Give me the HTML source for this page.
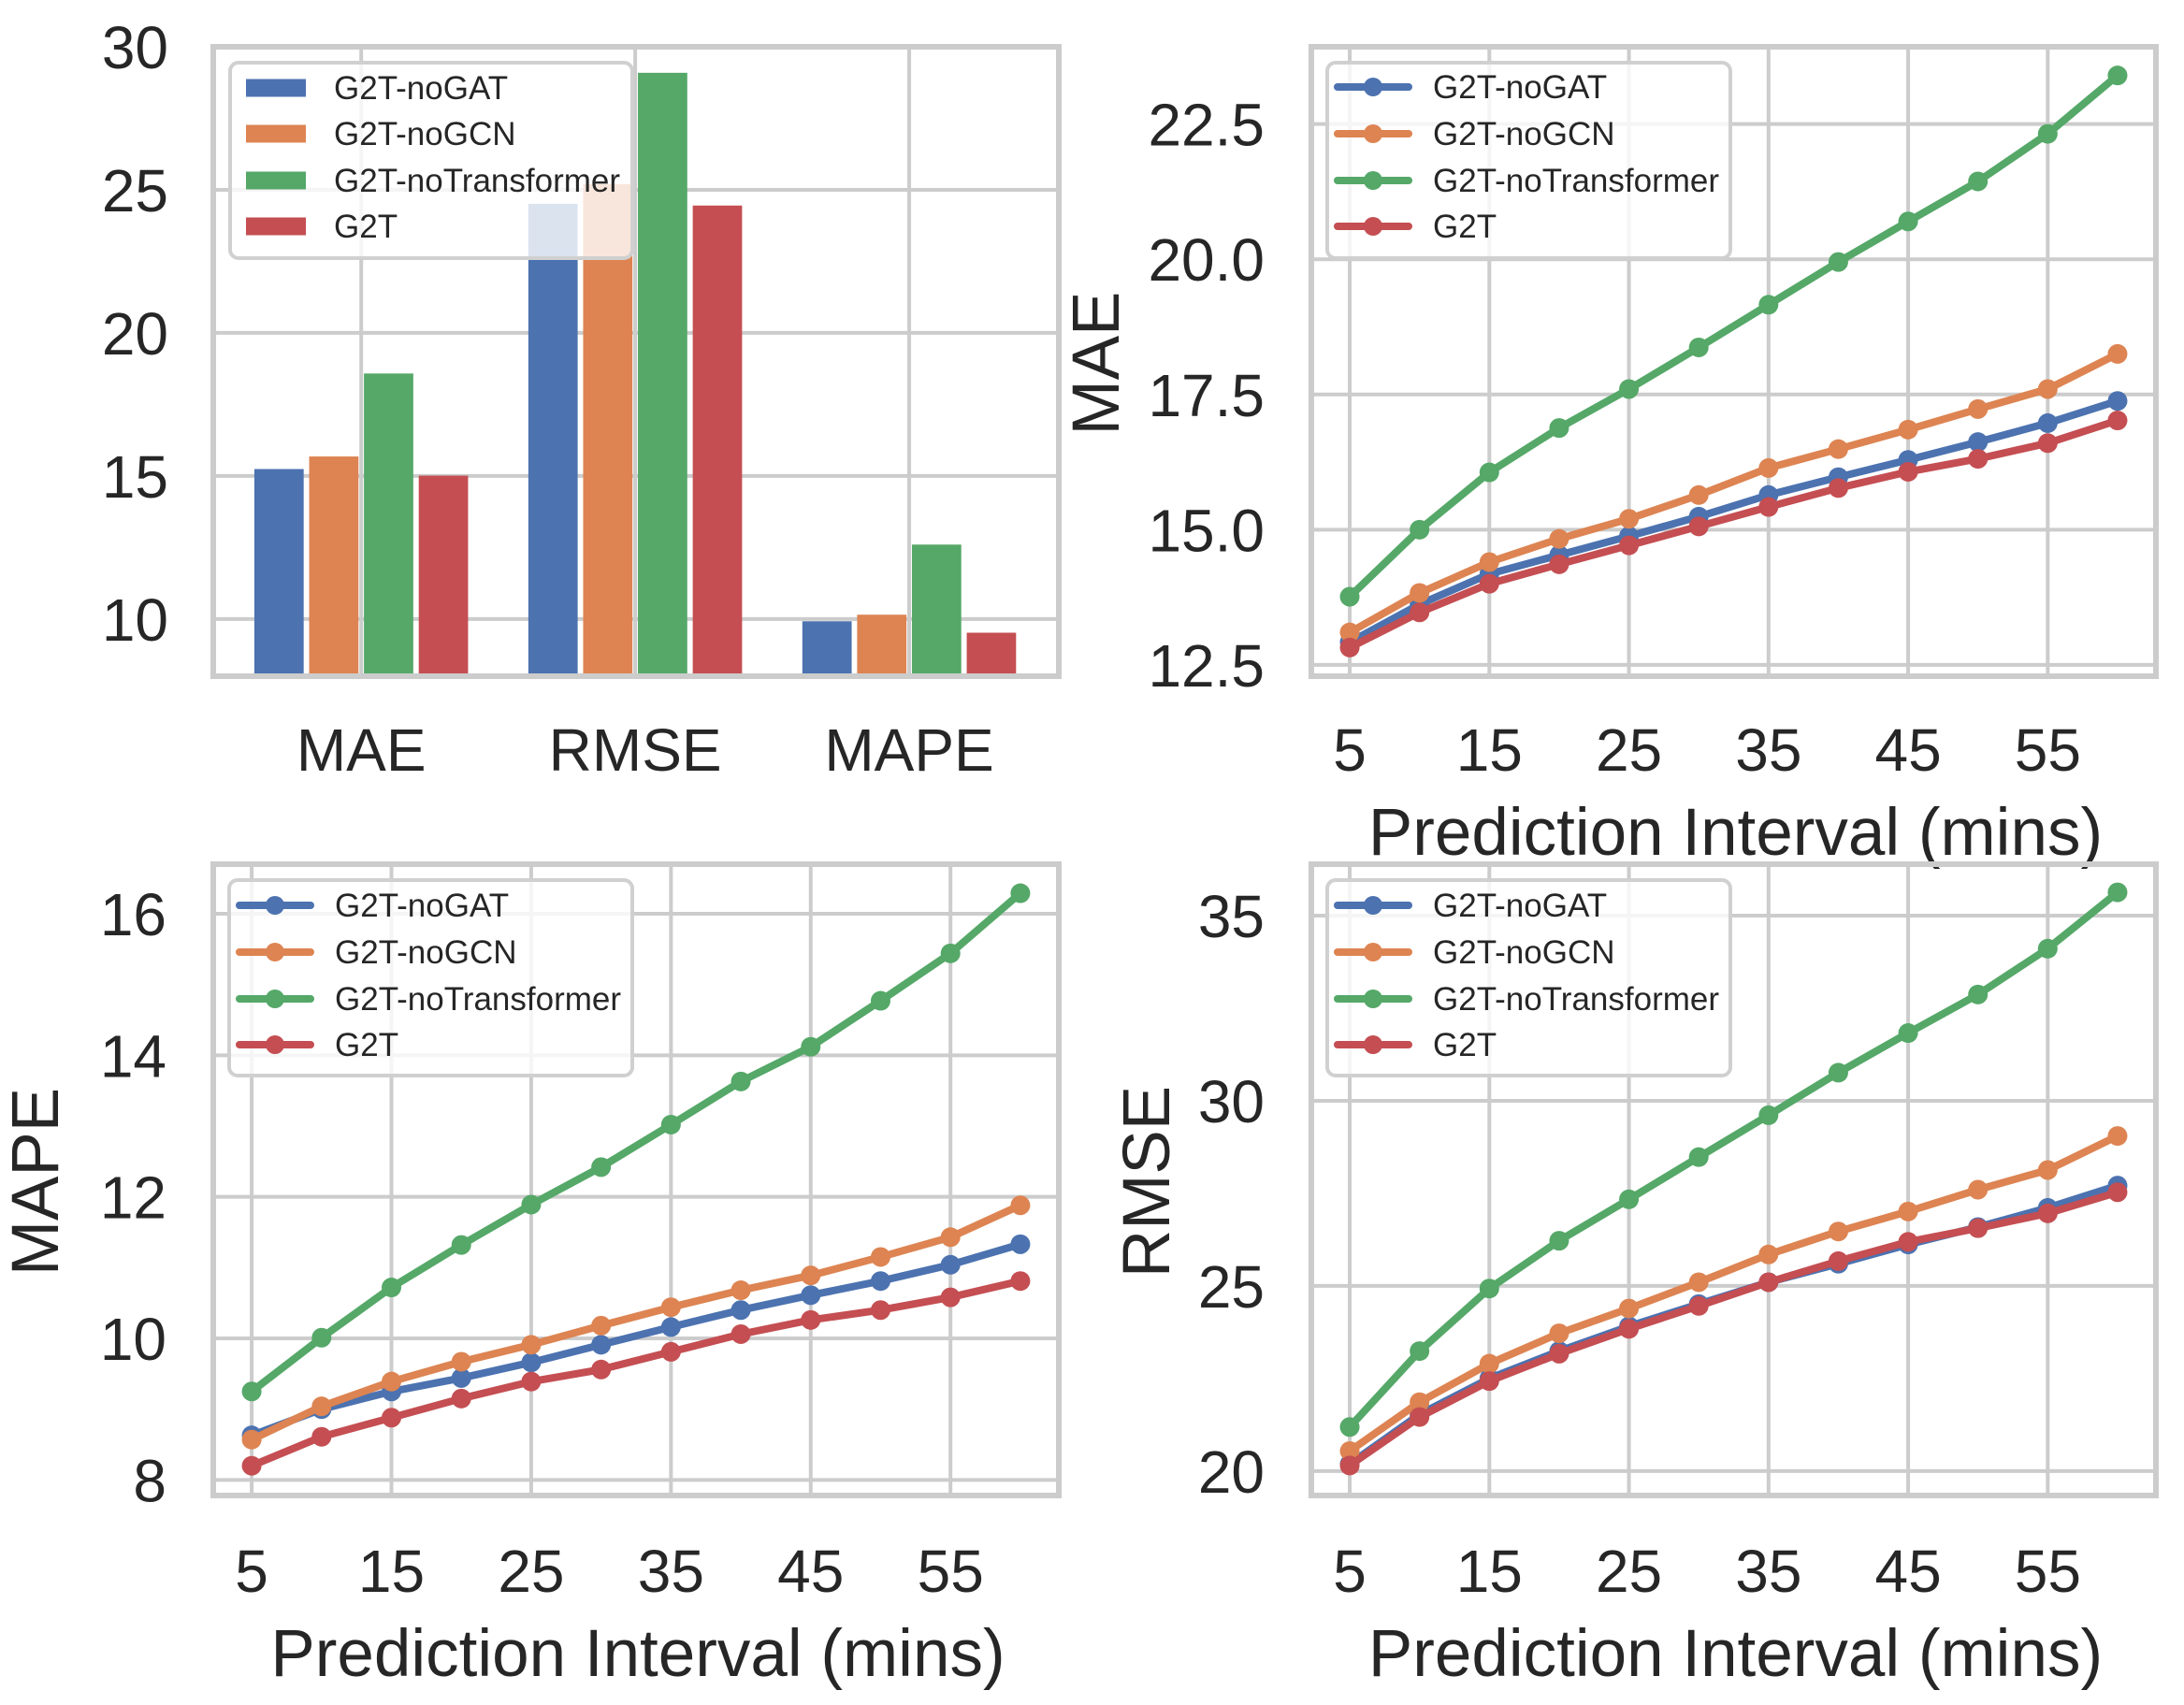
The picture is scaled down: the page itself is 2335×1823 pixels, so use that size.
<!DOCTYPE html>
<html><head><meta charset="utf-8">
<style>
html,body{margin:0;padding:0;background:#fff;}
svg{display:block;}
text{font-family:"Liberation Sans",Arial,sans-serif;fill:#262626;}
</style></head>
<body>
<svg id="fig" width="2335" height="1823" viewBox="0 0 2335 1823" xmlns="http://www.w3.org/2000/svg"></svg>
<script>
// ---------- data ----------
const seriesNames = ["G2T-noGAT","G2T-noGCN","G2T-noTransformer","G2T"];
const seriesColors = ["#4c72b0","#dd8452","#55a868","#c44e52"];
const barCategories = ["MAE","RMSE","MAPE"];
const barNoGAT = [15.24, 24.51, 9.92];
const barNoGCN = [15.68, 25.2, 10.15];
const barNoTransformer = [18.58, 29.09, 12.6];
const barG2T = [15.01, 24.45, 9.52];
const barYTicks = [10,15,20,25,30];

const intervals = [5,10,15,20,25,30,35,40,45,50,55,60];
const xTicks = [5,15,25,35,45,55];

const maeNoGAT = [12.92,13.62,14.18,14.53,14.88,15.24,15.64,15.97,16.29,16.62,16.97,17.38];
const maeNoGCN = [13.1,13.83,14.4,14.83,15.2,15.64,16.14,16.49,16.85,17.23,17.6,18.25];
const maeNoTransformer = [13.76,15.0,16.06,16.88,17.6,18.37,19.16,19.95,20.7,21.44,22.32,23.4];
const maeG2T = [12.82,13.47,14.0,14.36,14.71,15.06,15.42,15.77,16.07,16.31,16.6,17.02];
const maeYTicks = [12.5,15.0,17.5,20.0,22.5];

const mapeNoGAT = [8.63,9.0,9.25,9.44,9.66,9.91,10.16,10.4,10.61,10.81,11.04,11.33];
const mapeNoGCN = [8.57,9.04,9.39,9.67,9.91,10.18,10.44,10.68,10.89,11.15,11.43,11.88];
const mapeNoTransformer = [9.25,10.01,10.72,11.32,11.89,12.42,13.02,13.63,14.12,14.77,15.44,16.29];
const mapeG2T = [8.2,8.61,8.88,9.15,9.39,9.56,9.81,10.06,10.26,10.4,10.58,10.81];
const mapeYTicks = [8,10,12,14,16];

const rmseNoGAT = [20.19,21.53,22.5,23.24,23.91,24.51,25.1,25.6,26.12,26.59,27.11,27.71];
const rmseNoGCN = [20.54,21.86,22.9,23.72,24.39,25.1,25.85,26.47,27.01,27.6,28.13,29.05];
const rmseNoTransformer = [21.19,23.24,24.93,26.22,27.34,28.48,29.61,30.76,31.83,32.87,34.11,35.63];
const rmseG2T = [20.15,21.46,22.43,23.17,23.84,24.46,25.1,25.67,26.19,26.56,26.96,27.53];
const rmseYTicks = [20,25,30,35];

// ---------- helpers ----------
const NS="http://www.w3.org/2000/svg";
const fig=document.getElementById('fig');
function mk(tag,attrs,parent){const e=document.createElementNS(NS,tag);for(const k in attrs)e.setAttribute(k,attrs[k]);(parent||fig).appendChild(e);return e;}
function scale(d0,d1,r0,r1){return v=>r0+(v-d0)*(r1-r0)/(d1-d0);}
const GRID="#cccccc";
const TICK_FS=64, TITLE_FS=71;

function axesFrame(g,L,R,T,B){
  const r=mk('rect',{x:L,y:T,width:R-L,height:B-T,fill:'none',stroke:GRID,'stroke-width':6},g);
  
  
}
function legend(g,x0,y0,w,h,rowYs,textX,kind,lineX0,lineX1){
  const lg=mk('g',{},g);
  
  
  mk('rect',{x:x0,y:y0,width:w,height:h,rx:9,fill:'#ffffff','fill-opacity':0.8,stroke:'#d0d0d0','stroke-width':4},lg);
  seriesNames.forEach((n,i)=>{
    const e=mk('g',{},lg);
    
    
    const y=rowYs[i];
    if(kind==='bar'){
      mk('rect',{x:lineX0,y:y-9.5,width:lineX1-lineX0,height:19,fill:seriesColors[i]},e);
    } else {
      mk('line',{x1:lineX0,y1:y,x2:lineX1,y2:y,stroke:seriesColors[i],'stroke-width':8,'stroke-linecap':'round'},e);
      mk('circle',{cx:(lineX0+lineX1)/2,cy:y,r:10,fill:seriesColors[i]},e);
    }
    const t=mk('text',{x:textX,y:y+12,'font-size':35},e);
    t.textContent=n;
  });
}

// ---------- bar chart ----------
(function(){
  const L=228,R=1132,T=50,B=723;
  const g=mk('g',{});
  
  
  const y=scale(8,30,B,T);
  const x=scale(-0.54,2.546,L,R);
  barYTicks.forEach(v=>{
    const l=mk('line',{x1:L,x2:R,y1:y(v),y2:y(v),stroke:GRID,'stroke-width':4},g);
    
    
    const t=mk('text',{x:L-48,y:y(v)+23,'font-size':TICK_FS,'text-anchor':'end'},g);
    
    
    t.textContent=v;
  });
  barCategories.forEach((c,i)=>{
    const l=mk('line',{x1:x(i),x2:x(i),y1:T,y2:B,stroke:GRID,'stroke-width':4},g);
    
    
    const t=mk('text',{x:x(i),y:824,'font-size':TICK_FS,'text-anchor':'middle'},g);
    
    
    t.textContent=c;
  });
  const all=[barNoGAT,barNoGCN,barNoTransformer,barG2T];
  all.forEach((arr,s)=>{
    arr.forEach((v,i)=>{
      const cx=x(i+(s-1.5)*0.2);
      const w=x(0.2*0.9)-x(0);
      const r=mk('rect',{x:cx-w/2,y:y(v),width:w,height:B-y(v),fill:seriesColors[s]},g);
      
      
    });
  });
  axesFrame(g,L,R,T,B);
  legend(g,246,67,430,209,[94,143,193,242],357,'bar',263,327);
})();

// ---------- line charts ----------
function lineChart(name,L,R,T,B,ymin,ymax,yTicks,fmt,seriesArrs,yLabel,yLabelX,legY0,legRows,xTickY,xLabelY){
  const g=mk('g',{});
  
  
  const x=scale(2.25,62.75,L,R);
  const y=scale(ymin,ymax,B,T);
  yTicks.forEach(v=>{
    const l=mk('line',{x1:L,x2:R,y1:y(v),y2:y(v),stroke:GRID,'stroke-width':4},g);
    
    
    const t=mk('text',{x:L-50,y:y(v)+23,'font-size':TICK_FS,'text-anchor':'end'},g);
    
    
    t.textContent=fmt(v);
  });
  xTicks.forEach(v=>{
    const l=mk('line',{x1:x(v),x2:x(v),y1:T,y2:B,stroke:GRID,'stroke-width':4},g);
    
    
    const t=mk('text',{x:x(v),y:xTickY,'font-size':TICK_FS,'text-anchor':'middle'},g);
    
    
    t.textContent=v;
  });
  seriesArrs.forEach((arr,s)=>{
    const sg=mk('g',{},g);
    
    
    const pts=arr.map((v,i)=>x(intervals[i]).toFixed(1)+','+y(v).toFixed(1)).join(' ');
    mk('polyline',{points:pts,fill:'none',stroke:seriesColors[s],'stroke-width':8,'stroke-linejoin':'round'},sg);
    arr.forEach((v,i)=>{
      const c=mk('circle',{cx:x(intervals[i]),cy:y(v),r:10.5,fill:seriesColors[s]},sg);
      
      
    });
  });
  axesFrame(g,L,R,T,B);
  legend(g,L+17,legY0,431,209,legRows,L+130,'line',L+28,L+104);
  const xl=mk('text',{x:(L+R)/2+2,y:xLabelY,'font-size':TITLE_FS,'text-anchor':'middle'},g);
  
  
  xl.textContent='Prediction Interval (mins)';
  const cy=(T+B)/2+2;
  const yl=mk('text',{x:yLabelX,y:cy,'font-size':TITLE_FS,'text-anchor':'middle',transform:`rotate(-90 ${yLabelX} ${cy})`},g);
  
  
  yl.textContent=yLabel;
}
const f1=v=>v.toFixed(1), f0=v=>String(v);
lineChart('mae-line-chart',1402,2305,50,723,12.29,23.93,maeYTicks,f1,
  [maeNoGAT,maeNoGCN,maeNoTransformer,maeG2T],'MAE',1196,67,[93,143,193,242],824,914);
lineChart('mape-line-chart',228,1132,924,1599,7.78,16.70,mapeYTicks,f0,
  [mapeNoGAT,mapeNoGCN,mapeNoTransformer,mapeG2T],'MAPE',62,941,[968,1018,1068,1117],1702,1792);
lineChart('rmse-line-chart',1402,2305,924,1599,19.34,36.39,rmseYTicks,f0,
  [rmseNoGAT,rmseNoGCN,rmseNoTransformer,rmseG2T],'RMSE',1250,941,[968,1018,1068,1117],1702,1792);
</script>
</body></html>
